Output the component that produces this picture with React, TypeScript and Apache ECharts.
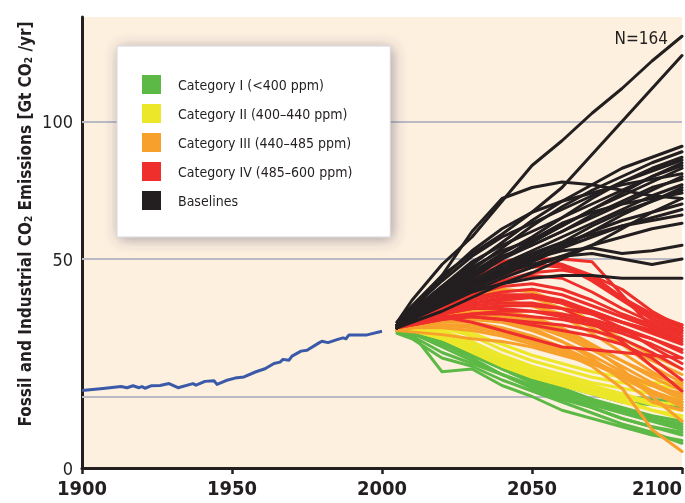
import React, { useEffect, useRef } from 'react';
import * as echarts from 'echarts';

const FONT = '"Liberation Sans Narrow", "DejaVu Sans Condensed", "Open Sans", sans-serif';
const INK = '#231f20';

// axes
const xTicks = [1900, 1950, 2000, 2050, 2100];
const yTickValues = [-26, 50, 100];
const yTickLabels = ['0', '50', '100'];
const gridValues = [0, 50, 100];

// historical fossil & industrial CO2 (Gt CO2/yr)
const histYears = [1900, 1907, 1913, 1915, 1917, 1919, 1920, 1921, 1923, 1926, 1929, 1932, 1937, 1938, 1941, 1944, 1945, 1948, 1951, 1954, 1958, 1961, 1964, 1966, 1967, 1969, 1970, 1973, 1975, 1979, 1980, 1982, 1985, 1987, 1988, 1989, 1995, 2000];
const histValues = [2.2, 2.9, 3.6, 3.2, 3.9, 3.2, 3.6, 3.0, 3.9, 4.0, 4.7, 3.2, 4.7, 4.1, 5.5, 5.7, 4.4, 5.8, 6.7, 7.1, 9.0, 10.1, 12.0, 12.5, 13.5, 13.2, 14.7, 16.5, 16.8, 19.5, 20.1, 19.6, 20.7, 21.3, 21.0, 22.4, 22.4, 23.7];

// scenario years
const scenarioYears = [2005, 2010, 2020, 2030, 2040, 2050, 2060, 2070, 2080, 2090, 2100];

const categoryNames = ['Category I (<400 ppm)', 'Category II (400\u2013440 ppm)', 'Category III (440\u2013485 ppm)', 'Category IV (485\u2013600 ppm)', 'Baselines'];
const categoryColors = ['#5cb946', '#ece728', '#f7a12c', '#ee2f2b', '#231f20'];

const catI = [
  [24, 23, 9, 10, 4, 0, -5, -8, -11, -14, -16],
  [24, 23, 19, 14, 8, 3, -1, -4, -8, -11, -14],
  [24, 23, 20, 15, 10, 6, 2, -2, -5, -8, -11],
  [24, 24, 21, 16, 11, 7, 3, -1, -4, -7, -9],
  [24, 23, 18, 13, 8, 4, 0, -3, -6, -9, -12],
  [23, 21, 14, 11, 6, 2, -2, -6, -10, -13, -17],
  [25, 24, 21, 17, 12, 8, 4, 1, -2, -3, -4],
  [24, 23, 19, 15, 10, 5, 1, -2, -5, -8, -10],
  [24, 22, 16, 12, 8, 4, 0, -4, -8, -11, -13],
  [25, 25, 22, 18, 13, 9, 5, 2, 0, -1, -2],
];

const catII = [
  [25, 25, 24, 20, 15, 11, 8, 5, 3, 1, -1],
  [25, 25, 22, 18, 13, 9, 6, 3, 0, -3, -5],
  [25, 24, 21, 17, 12, 8, 5, 2, -1, -5, -8],
  [25, 26, 25, 22, 17, 13, 10, 7, 5, 4, 3],
  [25, 25, 23, 19, 14, 10, 7, 4, 1, -2, -3],
  [24, 24, 21, 16, 11, 7, 4, 1, -2, -5, -7],
  [25, 26, 26, 23, 19, 15, 12, 9, 7, 5, 5],
];

const catIII = [
  [25, 28, 33, 37, 39, 38, 34, 27, 19, 11, 5],
  [25, 27, 31, 34, 35, 33, 29, 23, 16, 9, 3],
  [25, 27, 30, 32, 31, 29, 25, 19, 13, 7, 2],
  [25, 26, 29, 30, 29, 26, 22, 17, 11, 5, 0],
  [25, 26, 28, 28, 27, 24, 20, 15, 9, 4, -1],
  [25, 26, 27, 27, 25, 22, 18, 13, 8, 2, -2],
  [24, 25, 26, 25, 23, 20, 16, 12, 7, 1, -3],
  [25, 27, 29, 31, 30, 28, 24, 18, 10, 0, -9],
  [24, 25, 25, 24, 22, 19, 16, 11, 3, -12, -20],
  [25, 26, 28, 29, 28, 25, 20, 14, 6, -2, -5],
  [25, 27, 30, 33, 34, 33, 30, 25, 19, 13, 8],
  [25, 28, 32, 36, 37, 36, 32, 27, 21, 15, 10],
  [24, 25, 26, 26, 24, 21, 17, 13, 8, 2, -4],
  [25, 26, 28, 29, 29, 27, 23, 18, 13, 8, 4],
  [24, 23.5, 22.5, 21, 20, 18, 15, 12, 8, 4, 1],
];

const catIV = [
  [26, 30, 38, 45, 49, 51, 48, 42, 35, 28, 25],
  [26, 30, 37, 43, 48, 50, 50, 49, 37, 25, 24],
  [26, 29, 35, 40, 44, 47, 48, 44, 36, 30, 26],
  [26, 29, 34, 39, 42, 44, 43, 38, 32, 27, 24],
  [25, 28, 33, 37, 40, 41, 39, 35, 30, 26, 23],
  [25, 28, 33, 36, 38, 39, 37, 33, 29, 25, 22],
  [25, 28, 32, 35, 37, 37, 35, 31, 27, 24, 21],
  [25, 27, 31, 34, 35, 36, 34, 31, 27, 23, 19],
  [25, 27, 30, 32, 33, 33, 32, 30, 27, 24, 20],
  [25, 27, 30, 32, 32, 31, 29, 27, 24, 21, 17],
  [25, 27, 29, 30, 30, 29, 28, 26, 23, 19, 14],
  [25, 26, 28, 29, 28, 27, 26, 24, 21, 16, 10],
  [25, 28, 33, 38, 42, 45, 46, 44, 39, 31, 25],
  [26, 29, 35, 41, 45, 48, 47, 43, 36, 29, 26],
  [25, 27, 29, 29, 28, 26, 24, 22, 19, 14, 6],
  [25, 27, 31, 34, 36, 36, 34, 30, 25, 18, 12],
  [25, 26, 28, 30, 31, 31, 30, 28, 25, 21, 16],
  [25, 27, 30, 33, 34, 34, 32, 27, 20, 11, 2],
  [25, 27, 29, 27, 24, 21, 18, 17, 16, 15, 14],
];

const baselines = [
  [27, 35, 48, 58, 71, 84, 93, 103, 112, 122, 131],
  [27, 33, 44, 52, 59, 67, 76, 88, 100, 112, 124],
  [26, 31, 44, 60, 72, 76, 78, 77, 75, 73, 72],
  [26, 31, 40, 48, 56, 64, 71, 77, 83, 87, 91],
  [26, 30, 38, 46, 54, 62, 69, 75, 80, 85, 89],
  [25, 30, 38, 45, 52, 58, 65, 72, 78, 83, 87],
  [26, 31, 39, 47, 53, 57, 62, 68, 74, 80, 85],
  [25, 29, 36, 43, 50, 56, 62, 68, 73, 78, 83],
  [25, 30, 37, 44, 50, 55, 60, 65, 70, 75, 80],
  [26, 30, 38, 45, 51, 55, 60, 66, 71, 76, 79],
  [25, 29, 36, 42, 48, 53, 58, 63, 68, 73, 77],
  [25, 29, 35, 41, 46, 51, 56, 62, 67, 71, 75],
  [26, 30, 37, 44, 50, 57, 63, 67, 70, 72, 74],
  [25, 28, 34, 40, 45, 50, 55, 60, 64, 67, 70],
  [25, 28, 34, 39, 44, 49, 54, 58, 62, 65, 68],
  [25, 29, 35, 41, 47, 52, 56, 59, 62, 64, 66],
  [25, 28, 33, 38, 43, 47, 51, 55, 58, 61, 63],
  [25, 29, 35, 41, 46, 50, 53, 54, 52, 53, 55],
  [25, 28, 34, 40, 45, 48, 51, 52, 50, 48, 50],
  [25, 28, 33, 38, 41, 43, 44, 44, 43, 43, 43],
  [26, 31, 40, 49, 55, 60, 65, 70, 75, 80, 84],
  [26, 32, 42, 51, 58, 63, 68, 73, 78, 82, 86],
  [26, 30, 36, 41, 45, 49, 54, 60, 66, 71, 76],
  [25, 27, 31, 36, 41, 45, 50, 55, 61, 67, 72],
  [26, 32, 43, 53, 61, 67, 71, 74, 77, 79, 81],
];

const categoryData = [catI, catII, catIII, catIV, baselines];

export default function App() {
  const ref = useRef<HTMLDivElement>(null);

  useEffect(() => {
    if (!ref.current) return;
    const chart = echarts.init(ref.current, undefined, { renderer: 'svg' });

    const scenarioSeries: any[] = [];
    categoryData.forEach((lines, ci) => {
      lines.forEach((vals) => {
        scenarioSeries.push({
          type: 'line',
          name: categoryNames[ci],
          data: scenarioYears.map((y, i) => [y, vals[i]]),
          showSymbol: false,
          symbol: 'none',
          silent: true,
          z: 3,
          itemStyle: { color: categoryColors[ci] },
          lineStyle: { color: categoryColors[ci], width: 3, join: 'round', cap: 'round' },
        });
      });
    });

    const option: any = {
      animation: false,
      grid: {
        left: 82,
        right: 2,
        top: 17,
        bottom: 35,
        show: true,
        backgroundColor: '#fdf0df',
        borderWidth: 0,
      },
      xAxis: {
        type: 'value',
        min: 1900,
        max: 2100,
        interval: 50,
        axisLine: { show: true, onZero: false, lineStyle: { color: INK, width: 3 } },
        axisTick: { show: true, length: 6, lineStyle: { color: INK, width: 2.5 } },
        splitLine: { show: false },
        axisLabel: {
          color: INK,
          fontFamily: FONT,
          fontWeight: 'bold',
          fontSize: 20,
          margin: 10,
          alignMaxLabel: 'right',
          formatter: (v: number) => (xTicks.includes(v) ? String(v) : ''),
        },
      },
      yAxis: {
        type: 'value',
        min: -26,
        max: 138,
        axisLine: { show: true, onZero: false, lineStyle: { color: INK, width: 3 } },
        axisTick: { show: false },
        splitLine: { show: false },
        axisLabel: {
          color: INK,
          fontFamily: FONT,
          fontSize: 18,
          margin: 9,
          customValues: yTickValues,
          formatter: (v: number) => {
            const i = yTickValues.indexOf(v);
            return i >= 0 ? yTickLabels[i] : '';
          },
        },
      },
      legend: {
        data: categoryNames,
        orient: 'vertical',
        left: 117,
        top: 46,
        icon: 'rect',
        itemWidth: 19,
        itemHeight: 19,
        itemGap: 10,
        padding: [29, 38, 27, 25],
        backgroundColor: '#ffffff',
        borderColor: '#d4d4dc',
        borderWidth: 1,
        shadowBlur: 14,
        shadowColor: 'rgba(70,60,90,0.45)',
        shadowOffsetX: 2,
        shadowOffsetY: 2,
        selectedMode: false,
        textStyle: { color: INK, fontFamily: FONT, fontSize: 14, padding: [0, 0, 0, 12] },
      },
      graphic: [
        {
          type: 'text',
          right: 17,
          top: 29,
          style: { text: 'N=164', fill: INK, font: `17px ${FONT}` },
        },
        {
          type: 'text',
          x: 25,
          y: 224,
          rotation: Math.PI / 2,
          style: {
            text: 'Fossil and Industrial CO{s|2} Emissions [Gt CO{s|2} /yr]',
            fill: INK,
            font: `bold 17px ${FONT}`,
            align: 'center',
            verticalAlign: 'middle',
            rich: {
              s: { fontSize: 10, fontWeight: 'bold', fontFamily: FONT, fill: INK, verticalAlign: 'bottom', padding: [7, 0, 0, 0] },
            },
          },
        },
      ],
      series: [
        {
          type: 'line',
          name: 'History',
          data: histYears.map((y, i) => [y, histValues[i]]),
          showSymbol: false,
          symbol: 'none',
          silent: true,
          z: 2,
          lineStyle: { color: '#3a59a8', width: 3, join: 'round' },
          itemStyle: { color: '#3a59a8' },
          markLine: {
            silent: true,
            z: 1,
            symbol: ['none', 'none'],
            label: { show: false },
            lineStyle: { color: '#b9bac5', width: 2, type: 'solid' },
            data: gridValues.map((v) => ({ yAxis: v })),
          },
        },
        ...scenarioSeries,
      ],
    };

    chart.setOption(option);
    return () => chart.dispose();
  }, []);

  return <div ref={ref} style={{ position: 'fixed', left: 0, top: 0, width: 685, height: 503 }} />;
}
